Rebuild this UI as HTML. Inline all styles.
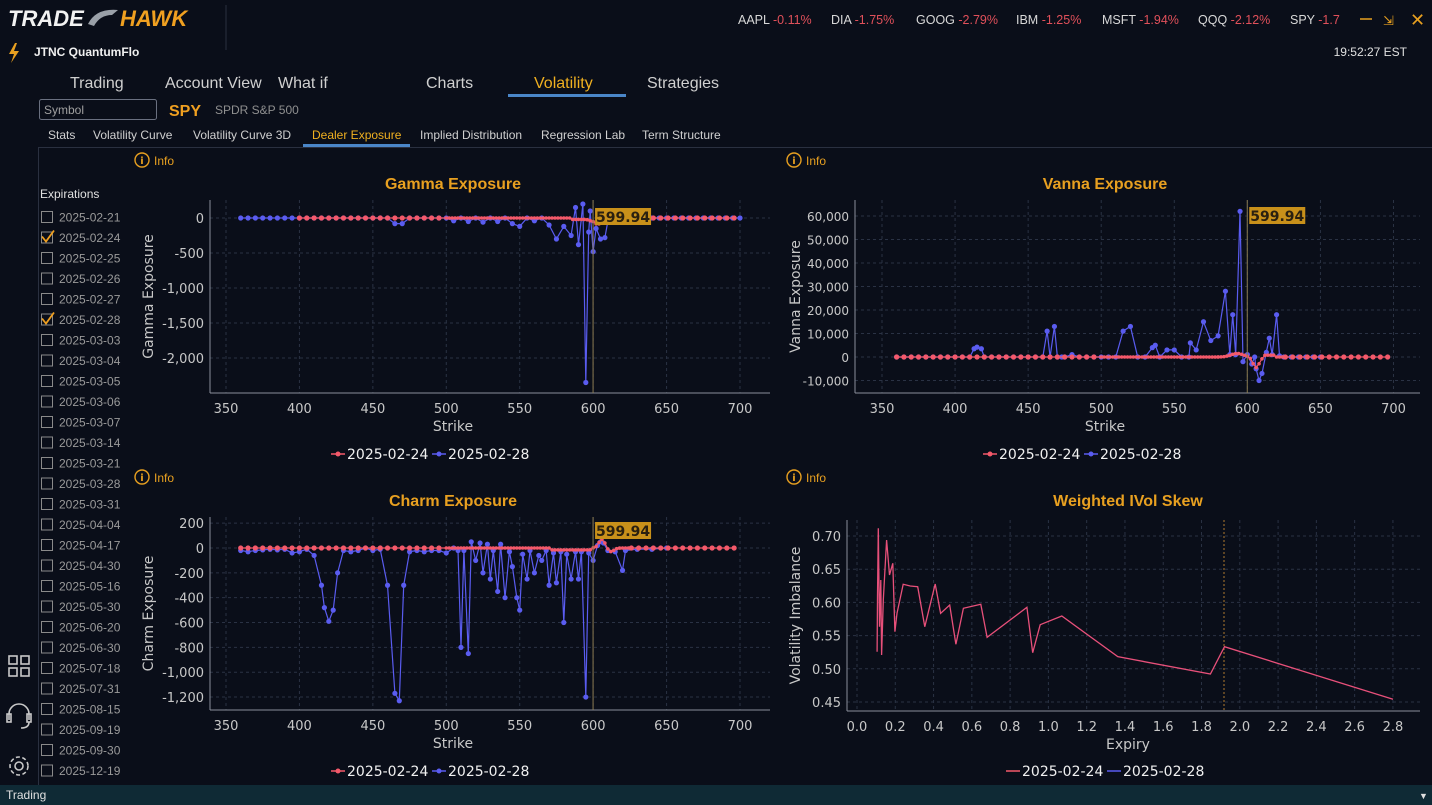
<!DOCTYPE html>
<html><head><meta charset="utf-8"><style>
html,body{margin:0;padding:0;background:#0a0e19;width:1432px;height:805px;overflow:hidden}
svg{display:block}
.ui{font-family:"Liberation Sans",sans-serif}
.ch{font-family:"DejaVu Sans","Liberation Sans",sans-serif}
</style></head><body>
<svg id="s" width="1432" height="805" xmlns="http://www.w3.org/2000/svg">
<rect width="1432" height="805" fill="#0a0e19"/>
<g class="ui">
<text x="8" y="26" font-size="22" font-weight="bold" font-style="italic" fill="#f2f2f2">TRADE</text>
<path d="M88 24 q8-16 30-14 l-6 5 q-12 0-18 11z" fill="#9aa0a8"/>
<text x="120" y="26" font-size="22" font-weight="bold" font-style="italic" fill="#f0a020">HAWK</text>
<line x1="226" y1="5" x2="226" y2="50" stroke="#2a3040"/>
<g font-size="12.5" fill="#d8d8d8">
<text x="738" y="24">AAPL <tspan fill="#e0505a">-0.11%</tspan></text>
<text x="831" y="24">DIA <tspan fill="#e0505a">-1.75%</tspan></text>
<text x="916" y="24">GOOG <tspan fill="#e0505a">-2.79%</tspan></text>
<text x="1016" y="24">IBM <tspan fill="#e0505a">-1.25%</tspan></text>
<text x="1102" y="24">MSFT <tspan fill="#e0505a">-1.94%</tspan></text>
<text x="1198" y="24">QQQ <tspan fill="#e0505a">-2.12%</tspan></text>
<text x="1290" y="24">SPY <tspan fill="#e0505a">-1.7</tspan></text>
</g>
<line x1="1360" y1="19" x2="1372" y2="19" stroke="#e8a020" stroke-width="1.5"/>
<text x="1383" y="25" font-size="13" fill="#e8a020">⇲</text>
<text x="1410" y="26" font-size="18" fill="#e8a020">✕</text>
<path d="M15 43 l-6 11 h5 l-3 9 l8-12 h-5 l3-8z" fill="#e8a020"/>
<text x="34" y="56" font-size="12" font-weight="bold" fill="#f0f0f0">JTNC QuantumFlo</text>
<text x="1407" y="56" font-size="12" fill="#e0e0e0" text-anchor="end">19:52:27 EST</text>
<g font-size="16" fill="#d0d0d0">
<text x="70" y="88">Trading</text><text x="165" y="88">Account View</text><text x="278" y="88">What if</text>
<text x="426" y="88">Charts</text><text x="534" y="88" fill="#f0b020">Volatility</text><text x="647" y="88">Strategies</text>
</g>
<rect x="508" y="94" width="118" height="3" fill="#4a86c8"/>
<rect x="39.5" y="99.5" width="117" height="20" rx="2" fill="#0a0e19" stroke="#6a7080"/>
<text x="44" y="114" font-size="12" fill="#a0a0a0">Symbol</text>
<text x="169" y="116" font-size="16" font-weight="bold" fill="#f0a020">SPY</text>
<text x="215" y="114" font-size="12" fill="#909090">SPDR S&amp;P 500</text>
<g font-size="12" fill="#d0d0d0">
<text x="48" y="139">Stats</text><text x="93" y="139">Volatility Curve</text><text x="193" y="139">Volatility Curve 3D</text>
<text x="312" y="139" fill="#f0b020">Dealer Exposure</text><text x="420" y="139">Implied Distribution</text>
<text x="541" y="139">Regression Lab</text><text x="642" y="139">Term Structure</text>
</g>
<rect x="303" y="144" width="107" height="3" fill="#4a86c8"/>
<line x1="38" y1="147.5" x2="1432" y2="147.5" stroke="#2a3040"/>
<line x1="38.5" y1="147" x2="38.5" y2="785" stroke="#2a3040"/>
<text x="40" y="198" font-size="12" fill="#e0e0e0">Expirations</text>
<g id="exp" font-size="12" fill="#9a9a9a"></g>
<g fill="none" stroke="#c8c8c8" stroke-width="1.6">
<rect x="9" y="656" width="8" height="8"/><rect x="21" y="656" width="8" height="8"/><rect x="9" y="668" width="8" height="8"/><rect x="21" y="668" width="8" height="8"/>
<path d="M9 720 v-6 a10 10 0 0 1 20 0 v6"/><rect x="7" y="714" width="4" height="8"/><rect x="27" y="714" width="4" height="8"/><path d="M29 722 q0 6 -8 6"/>
<circle cx="19" cy="766" r="4"/><circle cx="19" cy="766" r="9" stroke-dasharray="4 2.5"/>
</g>
<rect x="0" y="785" width="1432" height="20" fill="#0f2a35"/>
<text x="6" y="799" font-size="12" fill="#e0e0e0">Trading</text>
<text x="1419" y="799" font-size="9" fill="#e0e0e0">▼</text>
</g>
<g id="charts" class="ch"></g>
</svg>
<script>
var NS="http://www.w3.org/2000/svg",C=document.getElementById('charts');
function el(t,a,p,txt){var e=document.createElementNS(NS,t);for(var k in a)e.setAttribute(k,a[k]);if(txt!=null)e.textContent=txt;(p||C).appendChild(e);return e;}
var ex=["02-21","02-24","02-25","02-26","02-27","02-28","03-03","03-04","03-05","03-06","03-07","03-14","03-21","03-28","03-31","04-04","04-17","04-30","05-16","05-30","06-20","06-30","07-18","07-31","08-15","09-19","09-30","12-19"];
var E=document.getElementById('exp');
ex.forEach(function(d,i){var y=217+i*20.5;el('rect',{x:41.5,y:y-5.5,width:11,height:11,fill:'none',stroke:'#8a8a8a','stroke-width':1},E);
if(d=="02-24"||d=="02-28")el('path',{d:'M42 '+(y-1)+' l4 5 l8-11',fill:'none',stroke:'#f0a020','stroke-width':1.8},E);
el('text',{x:59,y:y+4.5},E,"2025-"+d);});
var RED="#f4596a",BLUE="#5a5cf0",OR="#e8a020";
function fmt(v){return v.toLocaleString('en-US');}
function frame(o){
 el('circle',{cx:o.ix+8,cy:o.iy-5,r:7,fill:'none',stroke:OR,'stroke-width':1.4});
 el('text',{x:o.ix+8,y:o.iy-1,'font-size':10,fill:OR,'text-anchor':'middle','font-weight':'bold'},null,'i');
 el('text',{x:o.ix+20,y:o.iy,'font-size':12,fill:OR,'font-family':'Liberation Sans'},null,'Info');
 el('text',{x:o.tx,y:o.ty,'font-size':16,'font-weight':'bold',fill:OR,'text-anchor':'middle','font-family':'Liberation Sans'},null,o.title);
 o.xt.forEach(function(t){var x=o.X(t);el('line',{x1:x,y1:o.top,x2:x,y2:o.bot,stroke:'#2a3244','stroke-dasharray':'3 3'});
   el('text',{x:x,y:o.bot+20,'font-size':13,fill:'#c8c8c8','text-anchor':'middle'},null,o.xf?o.xf(t):t);});
 o.yt.forEach(function(t){var y=o.Y(t);el('line',{x1:o.ax,y1:y,x2:o.right,y2:y,stroke:'#2a3244','stroke-dasharray':'3 3'});
   el('text',{x:o.ax-6,y:y+5,'font-size':o.yfs||13,fill:'#c8c8c8','text-anchor':'end'},null,o.yf?o.yf(t):fmt(t));});
 el('line',{x1:o.ax,y1:o.top,x2:o.ax,y2:o.bot,stroke:'#8a8f9a'});
 el('line',{x1:o.ax,y1:o.bot,x2:o.right,y2:o.bot,stroke:'#8a8f9a'});
 el('text',{x:o.tx,y:o.bot+38,'font-size':14,fill:'#c8c8c8','text-anchor':'middle'},null,o.xl);
 var cy=(o.top+o.bot)/2;
 el('text',{x:o.ylx,y:cy,'font-size':14,fill:'#c8c8c8','text-anchor':'middle',transform:'rotate(-90 '+o.ylx+' '+cy+')'},null,o.yl);
 var lx=o.tx-122,ly=o.ly;
 el('line',{x1:lx,y1:ly-5,x2:lx+14,y2:ly-5,stroke:RED,'stroke-width':1.5});if(o.dots)el('circle',{cx:lx+7,cy:ly-5,r:2.5,fill:RED});
 el('text',{x:lx+16,y:ly,'font-size':14,fill:'#f0f0f0'},null,'2025-02-24');
 el('line',{x1:lx+101,y1:ly-5,x2:lx+115,y2:ly-5,stroke:BLUE,'stroke-width':1.5});if(o.dots)el('circle',{cx:lx+108,cy:ly-5,r:2.5,fill:BLUE});
 el('text',{x:lx+117,y:ly,'font-size':14,fill:'#f0f0f0'},null,'2025-02-28');
}
function series(pts,X,Y,col,dots,r){var d=pts.map(function(p,i){return (i?'L':'M')+X(p[0]).toFixed(1)+' '+Y(p[1]).toFixed(1)}).join('');
 el('path',{d:d,fill:'none',stroke:col,'stroke-width':1.2});
 if(dots)pts.forEach(function(p){el('circle',{cx:X(p[0]),cy:Y(p[1]),r:(p[0]>=500&&p[0]<625&&col==RED)?1.8:(r||2.6),fill:col});});}
function spot(X,top,bot,y){var x=X(599.94);el('line',{x1:x,y1:top,x2:x,y2:bot,stroke:'#8a7a50','stroke-width':1});
 el('rect',{x:x+2,y:y,width:56,height:17,fill:'#c8901a'});el('text',{x:x+30,y:y+14,'font-size':14,'font-weight':'bold',fill:'#2a2010','text-anchor':'middle'},null,'599.94');}
function base(spikes,lo,hi,step){var m={};for(var s=lo;s<=hi;s+=step)m[s]=0;spikes.forEach(function(p){m[p[0]]=p[1];});
 return Object.keys(m).map(Number).sort(function(a,b){return a-b}).map(function(s){return [s,m[s]]});}
function redS(f){var a=[];for(var s=360;s<=700;s+=(s>=500&&s<625?2:5))a.push([s,f(s)]);return a;}
var XL=function(s){return 226+(s-350)*1.4686},XR=function(s){return 882+(s-350)*1.4614};
var xs=[350,400,450,500,550,600,650,700];
var GY=function(v){return 218-v*0.07};
frame({ix:134,iy:165,tx:453,ty:189,title:'Gamma Exposure',X:XL,Y:GY,xt:xs,yt:[0,-500,-1000,-1500,-2000],ax:210,right:770,top:200,bot:393,xl:'Strike',yl:'Gamma Exposure',ylx:153,ly:459,dots:1});
var gb=base([[465,-80],[470,-80],[505,-40],[515,-50],[525,-60],[535,-50],[545,-80],[550,-120],[560,-40],[570,-100],[575,-300],[580,-120],[585,-250],[588,150],[590,-380],[593,200],[595,-2350],[597,-200],[598,100],[600,-480],[602,-150],[605,-300],[608,-280],[610,-50]],360,700,5);
series(gb,XL,GY,BLUE,1);
series(redS(function(s){return -90*Math.exp(-Math.pow((s-603)/4,2))+(s>585&&s<600?-20:0)}).filter(function(p){return p[0]>=400}),XL,GY,RED,1);
spot(XL,200,393,208);
var VY=function(v){return 357-v*0.00235};
frame({ix:786,iy:165,tx:1105,ty:189,title:'Vanna Exposure',X:XR,Y:VY,xt:xs,yt:[60000,50000,40000,30000,20000,10000,0,-10000],ax:855,right:1420,top:200,bot:393,xl:'Strike',yl:'Vanna Exposure',ylx:800,ly:459,dots:1,yfs:12});
var vb=base([[410,0],[413,3500],[415,4200],[418,3500],[460,0],[463,11000],[468,13000],[473,0],[480,1000],[515,11000],[520,13000],[535,4000],[537,5000],[545,3000],[550,3000],[561,6000],[565,3000],[570,15000],[575,7000],[580,9000],[585,28000],[588,1000],[590,18000],[592,1000],[595,62000],[597,-2000],[600,1000],[603,-3000],[606,-5000],[608,-10000],[610,-7000],[613,2000],[615,8000],[617,1000],[620,18000],[622,500]],360,650,5);
series(vb,XR,VY,BLUE,1);
series(redS(function(s){return 1500*Math.exp(-Math.pow((s-593)/6,2))-4500*Math.exp(-Math.pow((s-606)/3,2))+(s>610&&s<620?800:0)}),XR,VY,RED,1);
spot(XR,200,393,207);
var CY=function(v){return 548-v*0.1242};
frame({ix:134,iy:482,tx:453,ty:506,title:'Charm Exposure',X:XL,Y:CY,xt:xs,yt:[200,0,-200,-400,-600,-800,-1000,-1200],ax:210,right:770,top:517,bot:710,xl:'Strike',yl:'Charm Exposure',ylx:153,ly:776,dots:1});
var cb=[[360,-20],[365,-30],[370,-20],[375,-15],[380,-10],[385,-15],[390,-10],[395,-40],[400,-30],[405,-10],[410,-60],[415,-300],[417,-480],[420,-590],[423,-500],[426,-200],[430,-20],[435,-30],[440,-20],[445,0],[450,-20],[455,-10],[460,-300],[465,-1170],[468,-1230],[471,-300],[475,-30],[480,-20],[485,-30],[490,-20],[495,-20],[500,-40],[505,0],[508,-20],[510,-800],[512,-20],[515,-850],[517,50],[520,-100],[523,40],[525,-200],[528,30],[530,-250],[532,-20],[535,-350],[537,30],[540,-400],[543,-30],[545,-150],[548,-400],[550,-500],[552,-50],[555,-250],[557,-20],[560,-200],[563,-60],[565,-100],[568,-20],[570,-300],[573,-40],[575,-280],[578,-30],[580,-600],[582,-50],[585,-250],[588,-30],[590,-250],[592,-30],[595,-1200],[597,-40],[600,-100],[603,20],[605,50],[607,40],[610,-20],[615,-30],[620,-180],[622,-20],[630,-10],[640,-10],[650,0]];
series(cb,XL,CY,BLUE,1);
series(redS(function(s){return 70*Math.exp(-Math.pow((s-606)/3,2))-30*Math.exp(-Math.pow((s-612)/3,2))+(s>570&&s<600?-15:0)}),XL,CY,RED,1);
spot(XL,517,710,522);
var SX=function(t){return 857+t*191.4},SY=function(v){return 536+(0.70-v)*664};
frame({ix:786,iy:482,tx:1128,ty:506,title:'Weighted IVol Skew',X:SX,Y:SY,xt:[0,.2,.4,.6,.8,1,1.2,1.4,1.6,1.8,2,2.2,2.4,2.6,2.8],xf:function(t){return t.toFixed(1)},yt:[.7,.65,.6,.55,.5,.45],yf:function(t){return t.toFixed(2)},ax:847,right:1420,top:520,bot:711,xl:'Expiry',yl:'Volatility Imbalance',ylx:800,ly:776,dots:0});
el('line',{x1:1224,y1:520,x2:1224,y2:711,stroke:'#b07a30','stroke-dasharray':'2 2'});
var zp=[[235,515],[236,350],[238,145],[241,440],[244,300],[246,525],[250,360],[258,180],[265,285],[273,250],[278,455],[283,400],[298,313],[315,318],[333,320],[350,440],[375,312],[388,400],[410,375],[425,493],[443,385],[485,373],[500,472],[596,382],[610,518],[628,434],[680,408],[815,530],[1038,582],[1072,500],[1478,658]];
el('path',{d:zp.map(function(p,i){return (i?'L':'M')+(779.5+p[0]/2.409).toFixed(1)+' '+(480+p[1]/3).toFixed(1)}).join(''),fill:'none',stroke:'#e8507a','stroke-width':1.3});
</script>
</body></html>
